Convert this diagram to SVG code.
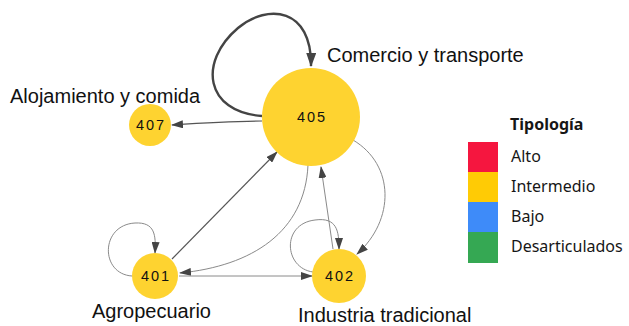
<svg xmlns="http://www.w3.org/2000/svg" width="629" height="326" viewBox="0 0 629 326">
<style>
.node{fill:#FED330}
.nl{font-family:"Liberation Sans",Arial,sans-serif;font-size:14.5px;fill:#111;text-anchor:middle;letter-spacing:2px}
.lab{font-family:"Liberation Sans",Arial,sans-serif;font-size:20px;fill:#111}
.e{fill:none;stroke:#8a8a8a;stroke-width:1;marker-end:url(#ah)}
.ed{fill:none;stroke:#555;stroke-width:1.2;marker-end:url(#ah)}
.leg{font-family:"Noto Sans",sans-serif;font-size:16px;fill:#161616}
</style>
<defs>
<marker id="ah" markerWidth="12" markerHeight="8" refX="11" refY="4" orient="auto" markerUnits="userSpaceOnUse">
<path d="M0,0 L12,4 L0,8 Z" fill="#444"/>
</marker>
<marker id="ahb" markerWidth="14" markerHeight="10" refX="13" refY="5" orient="auto" markerUnits="userSpaceOnUse">
<path d="M0,0 L14,5 L0,10 Z" fill="#444"/>
</marker>
</defs>
<g id="edges">
<path d="M262,116 C205,112 198,62 238,28 C268,3 312,8 311,66" fill="none" stroke="#444" stroke-width="2.4" marker-end="url(#ahb)"/>
<path class="ed" d="M262,121 C230,121 200,123 172,125"/>
<path class="ed" d="M172,259 L277,152"/>
<path class="e" d="M308,165 C305,232 252,266 180,273"/>
<path class="e" d="M179,276 L312,276"/>
<path class="e" d="M353,140 C395,165 395,220 357,254"/>
<path class="e" d="M333,249 L321,167"/>
<path class="e" d="M132,276 C100,274 100,225 135,223 C155,222 156,235 155,253"/>
<path class="e" d="M313,272 C284,268 281,224 315,220 C337,217 339,231 339,249"/>
</g>
<g id="n405"><circle class="node" cx="311" cy="117" r="49"/><text class="nl" x="312" y="122">405</text></g>
<g id="n407"><circle class="node" cx="150" cy="125" r="21"/><text class="nl" x="151" y="130">407</text></g>
<g id="n401"><circle class="node" cx="155" cy="276" r="23"/><text class="nl" x="156" y="281">401</text></g>
<g id="n402"><circle class="node" cx="339" cy="276" r="27"/><text class="nl" x="340" y="281">402</text></g>
<g id="labels">
<text class="lab" x="327" y="62">Comercio y transporte</text>
<text class="lab" x="10" y="103">Alojamiento y comida</text>
<text class="lab" x="92" y="318">Agropecuario</text>
<text class="lab" x="298" y="322" font-size="20.8">Industria tradicional</text>
</g>
<g id="legend">
<text class="leg" x="510" y="130" font-weight="bold">Tipología</text>
<rect x="468" y="142" width="30" height="30" fill="#F5163F"/>
<rect x="468" y="172" width="30" height="30" fill="#FFCB05"/>
<rect x="468" y="202" width="30" height="30" fill="#3E8BF9"/>
<rect x="468" y="232" width="30" height="31" fill="#35A853"/>
<text class="leg" x="511" y="162">Alto</text>
<text class="leg" x="511" y="192">Intermedio</text>
<text class="leg" x="511" y="222">Bajo</text>
<text class="leg" x="511" y="252">Desarticulados</text>
</g>
</svg>
